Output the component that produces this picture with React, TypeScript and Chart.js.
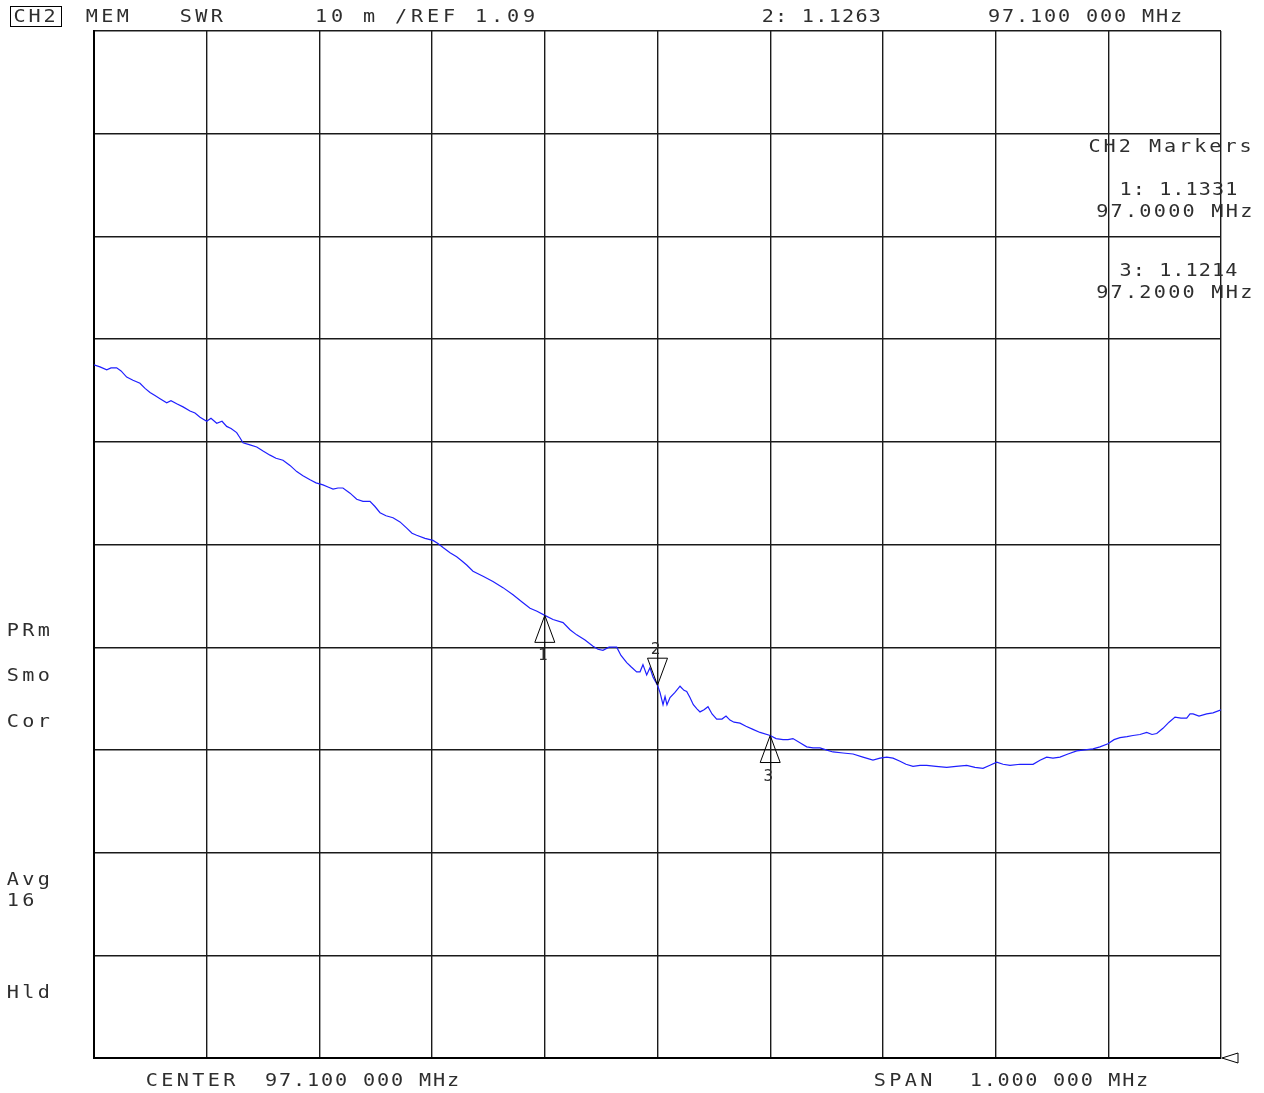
import { useEffect, useRef } from "react";
import { Chart, registerables } from "chart.js";

Chart.register(...registerables);

// Measured SWR trace, channel 2 (frequency in MHz, SWR)
const freqMHz = [
  96.6, 96.6053, 96.6113, 96.6151, 96.6201, 96.624, 96.629, 96.6346, 96.6408, 96.6453,
  96.6497, 96.6541, 96.6586, 96.6645, 96.6683, 96.6734, 96.679, 96.6852, 96.6896, 96.6941,
  96.7, 96.7038, 96.7089, 96.7136, 96.7177, 96.7216, 96.7266, 96.7295, 96.7322, 96.7384,
  96.7444, 96.75, 96.7562, 96.7615, 96.7677, 96.7739, 96.7799, 96.7854, 96.7917, 96.797,
  96.8032, 96.8076, 96.8121, 96.8165, 96.8209, 96.8272, 96.8331, 96.8387, 96.8449, 96.8493,
  96.8538, 96.8591, 96.8653, 96.8715, 96.8775, 96.8822, 96.8863, 96.8937, 96.9008, 96.9052,
  96.9097, 96.9159, 96.9218, 96.9265, 96.9307, 96.9363, 96.9452, 96.954, 96.9629, 96.9718,
  96.9798, 96.9869, 96.9931, 97.0, 97.0073, 97.0162, 97.0224, 97.0283, 97.0357, 97.0428,
  97.0472, 97.0516, 97.057, 97.0638, 97.0676, 97.0727, 97.0765, 97.0815, 97.0845, 97.0871,
  97.0904, 97.0933, 97.096, 97.1, 97.1022, 97.1049, 97.1067, 97.1084, 97.1111, 97.1155,
  97.12, 97.1235, 97.1259, 97.1288, 97.1318, 97.135, 97.1377, 97.1413, 97.1448, 97.1484,
  97.1525, 97.1572, 97.1608, 97.1643, 97.1679, 97.1732, 97.1785, 97.1847, 97.191, 97.2,
  97.2052, 97.2114, 97.2158, 97.2202, 97.2264, 97.2324, 97.238, 97.2442, 97.2495, 97.2557,
  97.2646, 97.2735, 97.2823, 97.2912, 97.2974, 97.3034, 97.309, 97.3152, 97.3205, 97.3267,
  97.3329, 97.3389, 97.3471, 97.3566, 97.3649, 97.3744, 97.3817, 97.3888, 97.395, 97.401,
  97.4066, 97.4128, 97.4217, 97.4332, 97.4394, 97.4453, 97.4509, 97.4571, 97.4642, 97.472,
  97.4793, 97.4864, 97.4926, 97.4997, 97.5051, 97.5104, 97.5166, 97.5219, 97.5281, 97.5341,
  97.5388, 97.543, 97.5485, 97.5539, 97.5592, 97.5645, 97.5696, 97.5725, 97.5752, 97.5805,
  97.5873, 97.5929, 97.6,
];

const swr = [
  1.1575, 1.1573, 1.157, 1.1572, 1.1572, 1.1569, 1.1563, 1.156, 1.1557, 1.1552,
  1.1548, 1.1545, 1.1542, 1.1538, 1.154, 1.1537, 1.1534, 1.153, 1.1528, 1.1524,
  1.152, 1.1523, 1.1518, 1.152, 1.1515, 1.1513, 1.1509, 1.1504, 1.1499, 1.1497,
  1.1495, 1.1491, 1.1487, 1.1484, 1.1482, 1.1477, 1.1471, 1.1467, 1.1463, 1.146,
  1.1458, 1.1456, 1.1454, 1.1455, 1.1455, 1.145, 1.1444, 1.1442, 1.1442, 1.1437,
  1.1431, 1.1428, 1.1426, 1.1422, 1.1416, 1.1411, 1.1409, 1.1406, 1.1404, 1.1401,
  1.1397, 1.1392, 1.1388, 1.1384, 1.138, 1.1374, 1.1369, 1.1364, 1.1358, 1.1351,
  1.1344, 1.1338, 1.1335, 1.1331, 1.1327, 1.1324, 1.1317, 1.1312, 1.1307, 1.1301,
  1.1298, 1.1297, 1.13, 1.13, 1.1292, 1.1285, 1.1281, 1.1276, 1.1276, 1.1283,
  1.1273, 1.128, 1.1271, 1.1263, 1.1256, 1.1244, 1.1252, 1.1244, 1.1251, 1.1256,
  1.1262, 1.1258, 1.1257, 1.1251, 1.1244, 1.124, 1.1237, 1.1239, 1.1242, 1.1235,
  1.123, 1.123, 1.1233, 1.1229, 1.1227, 1.1226, 1.1223, 1.122, 1.1217, 1.1214,
  1.1211, 1.121, 1.121, 1.1211, 1.1207, 1.1203, 1.1202, 1.1202, 1.12, 1.1198,
  1.1197, 1.1196, 1.1193, 1.119, 1.1192, 1.1193, 1.1192, 1.1189, 1.1186, 1.1184,
  1.1185, 1.1185, 1.1184, 1.1183, 1.1184, 1.1185, 1.1183, 1.1182, 1.1185, 1.1188,
  1.1186, 1.1185, 1.1186, 1.1186, 1.119, 1.1193, 1.1192, 1.1193, 1.1196, 1.1199,
  1.12, 1.1201, 1.1203, 1.1206, 1.121, 1.1212, 1.1213, 1.1214, 1.1215, 1.1217,
  1.1215, 1.1216, 1.1221, 1.1227, 1.1232, 1.1231, 1.1231, 1.1235, 1.1235, 1.1233,
  1.1235, 1.1236, 1.1239,
];

// Graticule: 10 divisions each way
const xTicks = [96.6, 96.7, 96.8, 96.9, 97.0, 97.1, 97.2, 97.3, 97.4, 97.5, 97.6];
const yTicks = [1.09, 1.1, 1.11, 1.12, 1.13, 1.14, 1.15, 1.16, 1.17, 1.18, 1.19];

// Instrument settings
const centerMHz = 97.1;
const spanMHz = 1.0;
const refLevel = 1.09;
const scalePerDiv = "10 m";

// Markers (number, frequency, reading); marker 2 is the active one
const markerIds = [1, 2, 3];
const markerFreqs = [97.0, 97.1, 97.2];
const markerSwr = [1.1331, 1.1263, 1.1214];
const activeMarker = 2;

// Left-hand softkey status annotations
const statusLabels = ["PRm", "Smo", "Cor", "Avg", "16", "Hld"];

const FONT = "18px 'DejaVu Sans Mono', monospace";
const INK = "#2e2e2e";

function mhz(v: number): string {
  const s = v.toFixed(6);
  return s.slice(0, s.length - 3) + " " + s.slice(s.length - 3) + " MHz";
}

// Draws text on a fixed character pitch, like the analyzer's plotter font
function spaced(ctx: CanvasRenderingContext2D, text: string, left: number, base: number, pitch: number) {
  ctx.textAlign = "center";
  ctx.textBaseline = "alphabetic";
  for (let i = 0; i < text.length; i++) {
    const ch = text[i];
    if (ch === " ") continue;
    ctx.save();
    ctx.translate(left + i * pitch + pitch / 2, base);
    ctx.scale(1.12, 1);
    ctx.fillText(ch, 0, 0);
    ctx.restore();
  }
}

const annotations = {
  id: "analyzerAnnotations",
  afterDatasetsDraw(chart: any) {
    const ctx: CanvasRenderingContext2D = chart.ctx;
    const xs = chart.scales.x;
    const ys = chart.scales.y;
    const area = chart.chartArea;
    ctx.save();
    ctx.strokeStyle = "#000";
    ctx.fillStyle = INK;
    ctx.lineWidth = 1;

    // marker triangles
    markerIds.forEach((id, i) => {
      const px = xs.getPixelForValue(markerFreqs[i]);
      const py = ys.getPixelForValue(markerSwr[i]);
      const h = 27;
      const hw = 10;
      const down = id === activeMarker;
      const baseY = down ? py - h : py + h;
      ctx.beginPath();
      ctx.moveTo(px, py);
      ctx.lineTo(px - hw, baseY);
      ctx.lineTo(px + hw, baseY);
      ctx.closePath();
      ctx.stroke();
      ctx.font = "16px 'DejaVu Sans Mono', monospace";
      ctx.textAlign = "center";
      ctx.fillText(String(id), px - 2, down ? baseY - 4 : baseY + 18);
    });

    // reference level arrow on the right edge
    const ry = ys.getPixelForValue(refLevel);
    ctx.beginPath();
    ctx.moveTo(area.right + 1, ry);
    ctx.lineTo(area.right + 17, ry - 5);
    ctx.lineTo(area.right + 17, ry + 5);
    ctx.closePath();
    ctx.stroke();

    // header line
    ctx.font = FONT;
    ctx.strokeRect(10.5, 6.5, 51, 20);
    spaced(ctx, "CH2", 12, 22, 15);
    spaced(ctx, "MEM", 84, 22, 15.5);
    spaced(ctx, "SWR", 178, 22, 15.5);
    spaced(ctx, `${scalePerDiv} /REF ${refLevel.toFixed(2)}`, 313, 22, 16);
    const ai = markerIds.indexOf(activeMarker);
    spaced(ctx, `${activeMarker}: ${markerSwr[ai].toFixed(4)}`, 761, 22, 13.4);
    spaced(ctx, mhz(markerFreqs[ai]), 987, 22, 14);

    // marker table
    spaced(ctx, "CH2 Markers", 1087, 152, 15.1);
    let row = 0;
    markerIds.forEach((id, i) => {
      if (id === activeMarker) return;
      const top = 195 + row * 81;
      spaced(ctx, `${id}: ${markerSwr[i].toFixed(4)}`, 1119, top, 13.2);
      spaced(ctx, `${markerFreqs[i].toFixed(4)} MHz`, 1095, top + 22, 14.4);
      row++;
    });

    // status annotations
    const statusBase = [636, 681, 727, 885, 906, 998];
    statusLabels.forEach((t, i) => spaced(ctx, t, 5, statusBase[i], 15.5));

    // footer
    spaced(ctx, "CENTER", 144, 1086, 15.5);
    spaced(ctx, mhz(centerMHz), 264, 1086, 14);
    spaced(ctx, "SPAN", 872, 1086, 15.5);
    spaced(ctx, mhz(spanMHz), 969, 1086, 13.85);
    ctx.restore();
  },
};

export default function App() {
  const canvasRef = useRef<HTMLCanvasElement | null>(null);

  useEffect(() => {
    const canvas = canvasRef.current;
    if (!canvas) return;
    const points = freqMHz.map((f, i) => ({ x: f, y: swr[i] }));
    const chart = new Chart(canvas, {
      type: "line",
      data: {
        datasets: [
          {
            data: points,
            borderColor: "#1f1fff",
            borderWidth: 1.2,
            pointRadius: 0,
            tension: 0,
            fill: false,
          },
        ],
      },
      options: {
        animation: false,
        responsive: true,
        maintainAspectRatio: false,
        layout: { padding: { left: 94, top: 31, right: 43, bottom: 35 } },
        plugins: { legend: { display: false }, tooltip: { enabled: false } },
        scales: {
          x: {
            type: "linear",
            min: xTicks[0],
            max: xTicks[xTicks.length - 1],
            afterBuildTicks: (s: any) => {
              s.ticks = xTicks.map((v) => ({ value: v }));
            },
            ticks: { display: false },
            grid: { color: "#1a1a1a", lineWidth: 1.4, drawTicks: false },
            border: { display: true, color: "#000", width: 2 },
          },
          y: {
            type: "linear",
            min: yTicks[0],
            max: yTicks[yTicks.length - 1],
            afterBuildTicks: (s: any) => {
              s.ticks = yTicks.map((v) => ({ value: v }));
            },
            ticks: { display: false },
            grid: { color: "#1a1a1a", lineWidth: 1.4, drawTicks: false },
            border: { display: true, color: "#000", width: 2 },
          },
        },
      },
      plugins: [annotations],
    });
    return () => chart.destroy();
  }, []);

  return (
    <div style={{ position: "absolute", left: 0, top: 0, width: 1264, height: 1093, background: "#fff" }}>
      <canvas ref={canvasRef} />
    </div>
  );
}
